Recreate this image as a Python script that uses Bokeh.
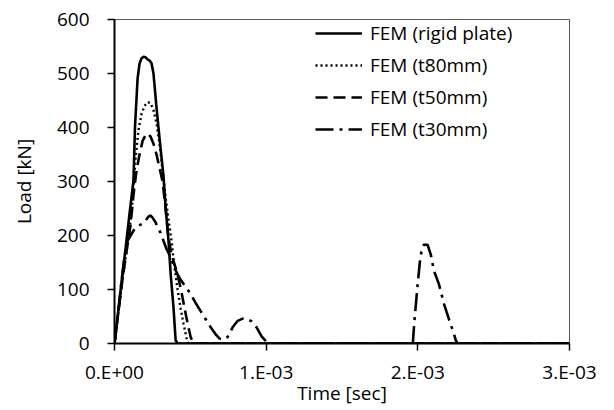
import numpy as np
from bokeh.plotting import figure
from bokeh.models import FixedTicker, Legend, LegendItem, Range1d
from bokeh.embed import file_html
from bokeh.resources import INLINE

# ---- data (time in milliseconds, load in kN) ----
rigid_t = [0, 0.020, 0.046, 0.073, 0.099, 0.125, 0.135, 0.152, 0.165, 0.178, 0.191,
           0.205, 0.218, 0.231, 0.244, 0.257, 0.277, 0.297, 0.323, 0.337, 0.356,
           0.370, 0.389, 0.403, 0.416, 3.0]
rigid_l = [0, 48, 113, 176, 240, 302, 400, 490, 518, 528, 531,
           530, 526, 524, 519, 500, 437, 380, 310, 252, 191,
           130, 67, 6, 0, 0]

t80_t = [0, 0.026, 0.053, 0.079, 0.099, 0.119, 0.139, 0.158, 0.178, 0.198, 0.218,
         0.238, 0.257, 0.277, 0.297, 0.317, 0.337, 0.356, 0.376, 0.396, 0.416,
         0.436, 0.455, 0.475, 0.488, 3.0]
t80_l = [0, 60, 120, 170, 210, 265, 344, 395, 425, 440, 447,
         445, 432, 408, 370, 320, 270, 230, 190, 140, 100,
         65, 37, 10, 0, 0]

t50_t = [0, 0.026, 0.053, 0.079, 0.106, 0.125, 0.145, 0.165, 0.185, 0.205, 0.218,
         0.238, 0.257, 0.277, 0.297, 0.317, 0.337, 0.356, 0.376, 0.403, 0.422,
         0.442, 0.462, 0.482, 0.502, 0.521, 3.0]
t50_l = [0, 60, 120, 170, 220, 275, 320, 350, 375, 386, 389,
         383, 370, 350, 325, 300, 250, 195, 165, 140, 120,
         95, 65, 37, 12, 0, 0]

t30_t = [0, 0.026, 0.046, 0.066, 0.086, 0.106, 0.132, 0.158, 0.185, 0.205, 0.224,
         0.238, 0.251, 0.271, 0.290, 0.304, 0.323, 0.343, 0.370, 0.396, 0.416,
         0.436, 0.469, 0.502, 0.535, 0.568, 0.601, 0.634, 0.667, 0.693, 0.713,
         0.746, 0.779, 0.812, 0.845, 0.878, 0.904, 0.937, 0.970, 1.003, 1.043,
         1.967, 1.976, 1.998, 2.013, 2.026, 2.040, 2.064, 2.086, 2.106, 2.139,
         2.172, 2.205, 2.238, 2.251, 2.264, 3.0]
t30_l = [0, 60, 115, 160, 190, 200, 212, 218, 222, 228, 235,
         237, 233, 224, 212, 205, 190, 175, 160, 140, 128,
         118, 105, 92, 75, 60, 45, 30, 17, 9, 7,
         12, 30, 42, 46, 45, 41, 30, 13, 3, 0,
         0, 37, 107, 150, 175, 183, 183, 164, 135, 110,
         74, 45, 18, 5, 0, 0]

series_names = ["FEM (rigid plate)", "FEM (t80mm)", "FEM (t50mm)", "FEM (t30mm)"]
x_ticks = [0, 0.001, 0.002, 0.003]
x_tick_labels = ["0.E+00", "1.E-03", "2.E-03", "3.E-03"]
y_ticks = [0, 100, 200, 300, 400, 500, 600]

FONT = "Open Sans"
FS = "19px"

W, H = 614, 410
p = figure(width=W, height=H, output_backend="svg", toolbar_location=None,
           x_range=Range1d(0, 0.003), y_range=Range1d(0, 600),
           min_border_left=114, min_border_right=W - 569, min_border_top=19,
           min_border_bottom=H - 343)
p.background_fill_color = "white"
p.border_fill_color = "white"
p.outline_line_color = "#595959"
p.outline_line_width = 1
p.xgrid.visible = False
p.ygrid.visible = False

styles = [
    dict(line_dash="solid", line_width=2.6),
    dict(line_dash="2 3", line_width=2.4),
    dict(line_dash="12 6", line_width=2.6),
    dict(line_dash="18 6 3 6", line_width=2.6),
]
data = [(rigid_t, rigid_l), (t80_t, t80_l), (t50_t, t50_l), (t30_t, t30_l)]
renderers = []
for (tt, ll), st in zip(data, styles):
    r = p.line(np.array(tt) * 1e-3, ll, line_color="black", **st)
    renderers.append(r)

# axes
for ax in (p.xaxis[0], p.yaxis[0]):
    ax.axis_line_color = "black"
    ax.axis_line_width = 2
    ax.major_tick_line_color = "black"
    ax.major_tick_line_width = 1.5
    ax.major_tick_out = 7
    ax.major_tick_in = 0
    ax.minor_tick_line_color = None
    ax.major_label_text_font = FONT
    ax.major_label_text_font_size = FS
    ax.major_label_text_color = "black"
    ax.axis_label_text_font = FONT
    ax.axis_label_text_font_size = FS
    ax.axis_label_text_font_style = "normal"
    ax.axis_label_text_color = "black"

p.xaxis.ticker = FixedTicker(ticks=x_ticks)
p.xaxis.major_label_overrides = {t: lab for t, lab in zip(x_ticks, x_tick_labels)}
p.xaxis.axis_label = "Time [sec]"
p.xaxis.major_label_standoff = 8
p.xaxis.axis_label_standoff = -8

p.yaxis.ticker = FixedTicker(ticks=y_ticks)
p.yaxis.axis_label = "Load [kN]"
p.yaxis.major_label_standoff = 18
p.yaxis.axis_label_standoff = 17

items = [LegendItem(label=n, renderers=[r]) for n, r in zip(series_names, renderers)]
legend = Legend(items=items, location=(201, 201))
legend.glyph_width = 47
legend.glyph_height = 24
legend.label_height = 24
legend.label_standoff = 8
legend.spacing = 6
legend.padding = 0
legend.margin = 0
legend.border_line_alpha = 0
legend.background_fill_alpha = 0
legend.label_text_font = FONT
legend.label_text_font_size = FS
legend.label_text_color = "black"
p.add_layout(legend, "center")

open("out.html", "w").write(file_html(p, INLINE))
